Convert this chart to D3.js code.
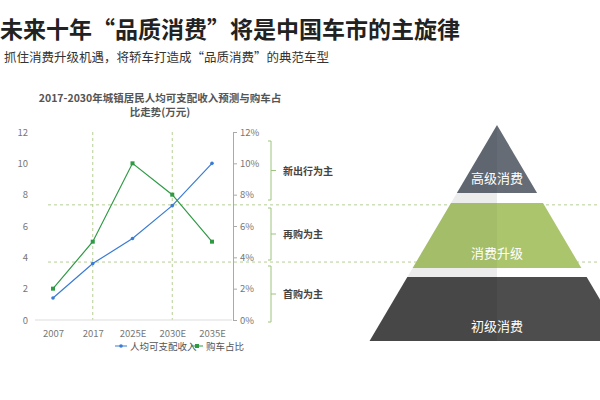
<!DOCTYPE html><html><head><meta charset="utf-8"><script src="https://cdn.jsdelivr.net/npm/d3@7"></script>
<style>body{margin:0;background:#fff}text{font-family:"Noto Sans CJK SC","Noto Sans",sans-serif}</style></head><body><svg id="c" width="600" height="400"></svg><script>
const categories=["2007","2017","2025E","2030E","2035E"];
const income=[1.4,3.6,5.2,7.3,10];
const carShare=[0.02,0.05,0.10,0.08,0.05];
const leftTicks=[0,2,4,6,8,10,12];
const rightTicks=[0,0.02,0.04,0.06,0.08,0.10,0.12];
const stages=["新出行为主","再购为主","首购为主"];
const pyramidLabels=["高级消费","消费升级","初级消费"];
const svg=d3.select("#c");
svg.append("text").attr("x",0).attr("y",38).attr("font-size",23).attr("font-weight","bold").attr("fill","#222").text("未来十年“品质消费”将是中国车市的主旋律");
svg.append("text").attr("x",4).attr("y",62).attr("font-size",12.5).attr("fill","#333").text("抓住消费升级机遇，将轿车打造成“品质消费”的典范车型");
svg.append("text").attr("x",160).attr("y",102).attr("text-anchor","middle").attr("font-size",10.5).attr("font-weight","bold").attr("fill","#555").text("2017-2030年城镇居民人均可支配收入预测与购车占");
svg.append("text").attr("x",160).attr("y",116).attr("text-anchor","middle").attr("font-size",10.5).attr("font-weight","bold").attr("fill","#555").text("比走势(万元)");
const x=d3.scalePoint().domain(categories).range([53,212]).padding(0);
const yL=d3.scaleLinear().domain([0,12]).range([320,132]);
const yR=d3.scaleLinear().domain([0,0.12]).range([320,132]);
// dashed guides
const dash="3,3",gc="#b5cf95";
[3.7,7.35].forEach(v=>svg.append("line").attr("x1",48).attr("x2",600).attr("y1",yL(v)).attr("y2",yL(v)).attr("stroke",gc).attr("stroke-dasharray",dash));
["2017","2030E"].forEach(c=>svg.append("line").attr("x1",x(c)).attr("x2",x(c)).attr("y1",132).attr("y2",320).attr("stroke",gc).attr("stroke-dasharray",dash));
svg.append("line").attr("x1",35).attr("x2",232).attr("y1",320).attr("y2",320).attr("stroke","#ddd");
const ga=svg.append("g").attr("transform","translate(32,0)").call(d3.axisLeft(yL).tickValues(leftTicks).tickSize(0).tickPadding(4));
ga.select(".domain").remove();
const gr=svg.append("g").attr("transform","translate(233,0)").call(d3.axisRight(yR).tickValues(rightTicks).tickFormat(d3.format(".0%")).tickSize(4).tickPadding(3));
gr.selectAll("line,.domain").attr("stroke","#aaa");
const gx=svg.append("g").attr("transform","translate(0,324)").call(d3.axisBottom(x).tickSize(0).tickPadding(6));
gx.select(".domain").remove();
svg.selectAll(".tick text").attr("fill","#777").attr("font-size",9.5).attr("font-family","Noto Sans, sans-serif");
const lineL=d3.line().x((d,i)=>x(categories[i])).y(d=>yL(d));
const lineR=d3.line().x((d,i)=>x(categories[i])).y(d=>yR(d));
svg.append("path").attr("d",lineL(income)).attr("fill","none").attr("stroke","#3a7bd5").attr("stroke-width",1.2);
svg.selectAll(".pb").data(income).enter().append("circle").attr("cx",(d,i)=>x(categories[i])).attr("cy",d=>yL(d)).attr("r",1.8).attr("fill","#3a7bd5");
svg.append("path").attr("d",lineR(carShare)).attr("fill","none").attr("stroke","#2e9a44").attr("stroke-width",1.2);
svg.selectAll(".pg").data(carShare).enter().append("rect").attr("x",(d,i)=>x(categories[i])-2).attr("y",d=>yR(d)-2).attr("width",4).attr("height",4).attr("fill","#2e9a44");
// legend
const lg=svg.append("g").attr("transform","translate(0,346)");
lg.append("line").attr("x1",115).attr("x2",127).attr("y1",0).attr("y2",0).attr("stroke","#3a7bd5");
lg.append("circle").attr("cx",121).attr("cy",0).attr("r",1.8).attr("fill","#3a7bd5");
lg.append("text").attr("x",130).attr("y",4).attr("font-size",9.5).attr("fill","#555").text("人均可支配收入");
lg.append("line").attr("x1",191).attr("x2",203).attr("y1",0).attr("y2",0).attr("stroke","#2e9a44");
lg.append("rect").attr("x",195).attr("y",-2).attr("width",4).attr("height",4).attr("fill","#2e9a44");
lg.append("text").attr("x",206).attr("y",4).attr("font-size",9.5).attr("fill","#555").text("购车占比");
// brackets
const br=[[141,200],[208,260],[266,322]];
br.forEach((b,i)=>{const m=(b[0]+b[1])/2;
svg.append("path").attr("d",`M268,${b[0]}H271V${b[1]}H268M271,${m}H276`).attr("fill","none").attr("stroke","#9cc47c");
svg.append("text").attr("x",283).attr("y",m+4).attr("font-size",10).attr("font-weight","bold").attr("fill","#444").text(stages[i]);});
// pyramid
const ax=497,ay=125,s=0.59,bands=[[125,193,"#5f6670","#656c76"],[203,268,"#a3bd68","#abc56d"],[277,341,"#474747","#4d4d4d"]];
const hw=y=>(y-ay)*s;
[[193,203],[268,277]].forEach(g=>{svg.append("path").attr("d",`M${ax-hw(g[0])},${g[0]}H${ax}V${g[1]}H${ax-hw(g[1])}Z`).attr("fill","#ececec");});
bands.forEach((b,i)=>{const[t,bt,cl,cr]=b;
svg.append("path").attr("d",`M${ax-hw(t)},${t}L${ax},${t}L${ax},${bt}L${ax-hw(bt)},${bt}Z`).attr("fill",cl);
svg.append("path").attr("d",`M${ax},${t}L${ax+hw(t)},${t}L${ax+hw(bt)},${bt}L${ax},${bt}Z`).attr("fill",cr);
svg.append("text").attr("x",ax).attr("y",bt-10).attr("text-anchor","middle").attr("font-size",13).attr("fill","#fff").text(pyramidLabels[i]);});
</script></body></html>
